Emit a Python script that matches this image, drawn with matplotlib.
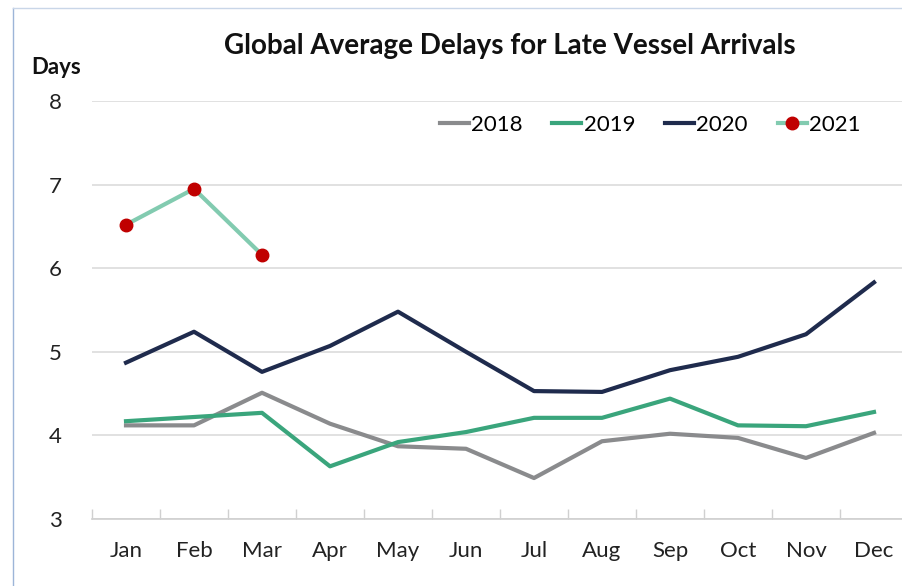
import matplotlib.pyplot as plt
from matplotlib.lines import Line2D

months = ['Jan', 'Feb', 'Mar', 'Apr', 'May', 'Jun', 'Jul', 'Aug', 'Sep', 'Oct', 'Nov', 'Dec']
d2018 = [4.12, 4.12, 4.51, 4.14, 3.87, 3.84, 3.49, 3.93, 4.02, 3.97, 3.73, 4.03]
d2019 = [4.17, 4.22, 4.27, 3.63, 3.92, 4.04, 4.21, 4.21, 4.44, 4.12, 4.11, 4.28]
d2020 = [4.87, 5.24, 4.76, 5.07, 5.48, 5.00, 4.53, 4.52, 4.78, 4.94, 5.21, 5.83]
d2021 = [6.52, 6.95, 6.16]
y_ticks = [3, 4, 5, 6, 7, 8]

c2018 = '#8a8b8d'
c2019 = '#3aa57c'
c2020 = '#1f2b4d'
c2021 = '#82cbb0'
c_mark = '#c00000'

plt.rcParams['font.family'] = ['Lato', 'DejaVu Sans']

fig = plt.figure(figsize=(9.03, 5.86), dpi=100)
ax = fig.add_axes([92 / 903, 1 - 519 / 586, 816 / 903, 418 / 586])

x = list(range(len(months)))
ax.plot(x, d2018, color=c2018, lw=3, label='2018')
ax.plot(x, d2019, color=c2019, lw=3, label='2019')
ax.plot(x, d2020, color=c2020, lw=3, label='2020')
ax.plot(x[:len(d2021)], d2021, color=c2021, lw=3, marker='o', ms=9,
        mfc=c_mark, mec=c_mark, label='2021')

ax.set_xlim(-0.5, len(months) - 0.5)
ax.set_ylim(3, 8)
ax.set_yticks(y_ticks)
ax.set_yticklabels([str(v) for v in y_ticks], fontsize=16, color='#222222')
ax.set_xticks(x)
ax.set_xticklabels(months, fontsize=16, color='#222222')
ax.tick_params(axis='x', length=0, pad=16)
ax.tick_params(axis='y', length=0, pad=22)
# small inside ticks between categories
ax.set_xticks([i - 0.5 for i in range(len(months) + 1)], minor=True)
ax.tick_params(axis='x', which='minor', direction='in', length=7, color='#d0d0d0', width=1)

ax.grid(axis='y', color='#dcdcdc', lw=1.2)
ax.set_axisbelow(True)
for s in ['top', 'right', 'left']:
    ax.spines[s].set_visible(False)
ax.spines['bottom'].set_color('#d0d0d0')
ax.spines['bottom'].set_linewidth(1.2)

ax.legend(loc='upper right', bbox_to_anchor=(0.966, 1.014), ncol=4, frameon=False,
          fontsize=16, handlelength=1.3, handletextpad=0.1, columnspacing=1.35)

fig.text(510 / 903, 1 - 46 / 586, 'Global Average Delays for Late Vessel Arrivals',
         ha='center', va='center', fontsize=20, fontweight='bold', color='#111111')
fig.text(31 / 903, 1 - 68 / 586, 'Days', ha='left', va='center', fontsize=16,
         fontweight='bold', color='#111111')

# outer chart border (left and top edges visible)
fig.add_artist(Line2D([13 / 903, 13 / 903], [0, 1 - 8 / 586], transform=fig.transFigure,
                      color='#9db5d8', lw=1))
fig.add_artist(Line2D([13 / 903, 1], [1 - 8 / 586, 1 - 8 / 586], transform=fig.transFigure,
                      color='#c9d6e8', lw=1))

fig.savefig('out.png', dpi=100)
